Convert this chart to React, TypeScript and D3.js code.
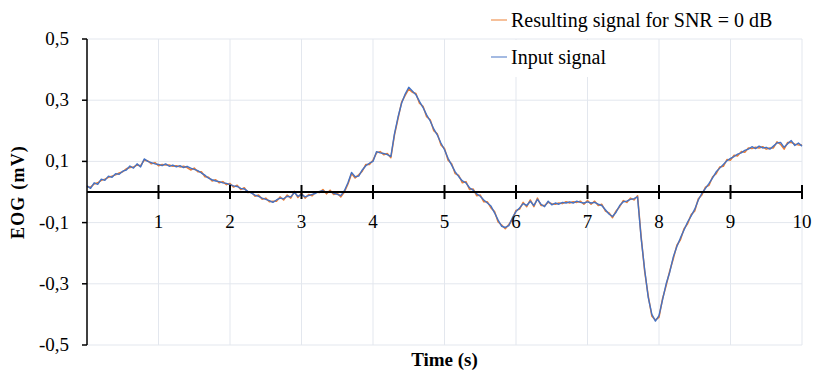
import * as d3 from "d3"

// sampling step of the traced signals (s)
const sampleStep = 0.05

const inputSignal = [
  0.020, 0.012, 0.030, 0.025, 0.042, 0.038, 0.052, 0.048, 0.060, 0.058,
  0.068, 0.072, 0.085, 0.078, 0.092, 0.082, 0.108, 0.100, 0.096, 0.092,
  0.090, 0.086, 0.092, 0.084, 0.088, 0.082, 0.086, 0.080, 0.084, 0.078,
  0.074, 0.070, 0.062, 0.055, 0.045, 0.040, 0.036, 0.034, 0.030, 0.028,
  0.024, 0.020, 0.018, 0.012, 0.010, 0.002, -0.004, -0.010, -0.014, -0.020,
  -0.024, -0.028, -0.034, -0.026, -0.020, -0.022, -0.014, -0.016, -0.002, -0.014,
  -0.008, -0.016, -0.012, -0.008, -0.004, 0.002, 0.004, -0.002, 0.002, -0.004,
  -0.008, -0.012, 0.004, 0.030, 0.064, 0.050, 0.052, 0.072, 0.086, 0.094,
  0.100, 0.132, 0.128, 0.126, 0.122, 0.116, 0.190, 0.245, 0.290, 0.320,
  0.342, 0.330, 0.318, 0.296, 0.276, 0.252, 0.232, 0.206, 0.186, 0.160,
  0.138, 0.110, 0.088, 0.066, 0.050, 0.036, 0.030, 0.014, 0.006, -0.006,
  -0.014, -0.026, -0.036, -0.046, -0.068, -0.092, -0.112, -0.116, -0.110, -0.084,
  -0.064, -0.052, -0.038, -0.044, -0.030, -0.044, -0.024, -0.040, -0.048, -0.030,
  -0.042, -0.036, -0.040, -0.034, -0.036, -0.032, -0.036, -0.030, -0.034, -0.036,
  -0.032, -0.036, -0.034, -0.040, -0.044, -0.058, -0.072, -0.080, -0.066, -0.044,
  -0.032, -0.030, -0.024, -0.022, -0.016, -0.150, -0.255, -0.345, -0.400, -0.422,
  -0.404, -0.352, -0.300, -0.262, -0.212, -0.178, -0.150, -0.124, -0.098, -0.078,
  -0.056, -0.026, -0.004, 0.012, 0.028, 0.046, 0.066, 0.078, 0.090, 0.102,
  0.110, 0.116, 0.124, 0.128, 0.136, 0.140, 0.148, 0.142, 0.150, 0.144,
  0.146, 0.140, 0.150, 0.160, 0.162, 0.146, 0.158, 0.168, 0.152, 0.160,
  0.150,
]

const resultSignal = [
  0.016, 0.016, 0.026, 0.030, 0.038, 0.042, 0.048, 0.052, 0.056, 0.062,
  0.066, 0.076, 0.080, 0.082, 0.088, 0.086, 0.104, 0.102, 0.092, 0.096,
  0.086, 0.090, 0.088, 0.088, 0.084, 0.086, 0.082, 0.084, 0.080, 0.072,
  0.078, 0.066, 0.066, 0.050, 0.048, 0.036, 0.040, 0.030, 0.034, 0.024,
  0.028, 0.016, 0.022, 0.008, 0.014, -0.002, 0.000, -0.014, -0.010, -0.024,
  -0.020, -0.032, -0.030, -0.030, -0.016, -0.026, -0.010, -0.020, 0.002, -0.018,
  -0.004, -0.020, -0.008, -0.012, 0.000, -0.002, 0.008, -0.006, 0.006, -0.008,
  -0.004, -0.016, 0.000, 0.026, 0.060, 0.046, 0.056, 0.068, 0.090, 0.090,
  0.104, 0.128, 0.132, 0.122, 0.126, 0.112, 0.186, 0.240, 0.294, 0.316,
  0.336, 0.326, 0.322, 0.290, 0.280, 0.246, 0.236, 0.200, 0.190, 0.154,
  0.142, 0.104, 0.092, 0.060, 0.054, 0.030, 0.034, 0.008, 0.010, -0.012,
  -0.010, -0.032, -0.032, -0.052, -0.064, -0.098, -0.108, -0.120, -0.106, -0.090,
  -0.060, -0.056, -0.034, -0.048, -0.026, -0.048, -0.020, -0.044, -0.044, -0.034,
  -0.038, -0.040, -0.036, -0.038, -0.032, -0.036, -0.032, -0.034, -0.030, -0.040,
  -0.028, -0.040, -0.030, -0.044, -0.040, -0.062, -0.068, -0.084, -0.062, -0.048,
  -0.028, -0.034, -0.020, -0.026, -0.012, -0.146, -0.260, -0.340, -0.406, -0.418,
  -0.410, -0.348, -0.306, -0.258, -0.218, -0.174, -0.156, -0.120, -0.104, -0.074,
  -0.062, -0.022, -0.010, 0.016, 0.022, 0.050, 0.060, 0.082, 0.084, 0.106,
  0.104, 0.120, 0.118, 0.132, 0.130, 0.144, 0.142, 0.146, 0.144, 0.148,
  0.140, 0.144, 0.144, 0.164, 0.156, 0.140, 0.162, 0.162, 0.156, 0.154,
  0.154,
]

const xTicks = [1, 2, 3, 4, 5, 6, 7, 8, 9, 10]
const yTicks = [0.5, 0.3, 0.1, -0.1, -0.3, -0.5]
const yTickLabels = ["0,5", "0,3", "0,1", "-0,1", "-0,3", "-0,5"]

const seriesNames = ["Resulting signal for SNR = 0 dB", "Input signal"]
const orange = "#ED7D31"
const blue = "#4472C4"

const W = 814
const H = 374
const margin = { top: 39, right: 12, bottom: 29, left: 87 }
const font = "'Liberation Serif', 'DejaVu Serif', serif"

export default function App() {
  const x = d3.scaleLinear().domain([0, 10]).range([margin.left, W - margin.right])
  const y = d3.scaleLinear().domain([-0.5, 0.5]).range([H - margin.bottom, margin.top])

  const line = d3
    .line<number>()
    .x((_, i) => x(i * sampleStep))
    .y((d) => y(d))

  const y0 = y(0)

  return (
    <svg
      width={W}
      height={H}
      style={{ position: "absolute", left: 0, top: 0, background: "#fff" }}
      fontFamily={font}
    >
      {/* grid */}
      {yTicks.map((t) => (
        <line key={"gy" + t} x1={x(0)} x2={x(10)} y1={y(t)} y2={y(t)} stroke="#E3E7EE" strokeWidth={1} />
      ))}
      {xTicks.map((t) => (
        <line key={"gx" + t} x1={x(t)} x2={x(t)} y1={y(0.5)} y2={y(-0.5)} stroke="#E3E7EE" strokeWidth={1} />
      ))}

      {/* legend background, partly inside the plot */}
      <rect x={486} y={y(0.5) + 1} width={138} height={37} fill="#fff" />

      {/* data */}
      <path d={line(resultSignal) || ""} fill="none" stroke={orange} strokeWidth={1.5} strokeLinejoin="round" />
      <path d={line(inputSignal) || ""} fill="none" stroke={blue} strokeWidth={1.4} strokeLinejoin="round" />

      {/* y axis */}
      <line x1={x(0)} x2={x(0)} y1={y(0.5)} y2={y(-0.5)} stroke="#000" strokeWidth={1.5} />
      {yTicks.map((t, i) => (
        <g key={"yt" + t}>
          <line x1={x(0) - 5} x2={x(0)} y1={y(t)} y2={y(t)} stroke="#000" strokeWidth={1.5} />
          <text x={x(0) - 18} y={y(t) + 6} textAnchor="end" fontSize={19} fill="#000">
            {yTickLabels[i]}
          </text>
        </g>
      ))}

      {/* x axis at zero */}
      <line x1={x(0)} x2={x(10)} y1={y0} y2={y0} stroke="#000" strokeWidth={2} />
      {xTicks.map((t) => (
        <g key={"xt" + t}>
          <line x1={x(t)} x2={x(t)} y1={y0 - 7} y2={y0 + 7} stroke="#000" strokeWidth={2} />
          <text x={x(t)} y={y0 + 36} textAnchor="middle" fontSize={19} fill="#000">
            {t}
          </text>
        </g>
      ))}

      {/* axis titles */}
      <text
        transform={`translate(24,${y0}) rotate(-90)`}
        textAnchor="middle"
        fontSize={18}
        fontWeight="bold"
        letterSpacing={1.2}
        fill="#000"
      >
        EOG (mV)
      </text>
      <text x={(x(0) + x(10)) / 2} y={366} textAnchor="middle" fontSize={19} fontWeight="bold" fill="#000">
        Time (s)
      </text>

      {/* legend */}
      {seriesNames.map((name, i) => (
        <g key={name} transform={`translate(491,${20 + i * 37})`}>
          <line x1={0} x2={16} y1={0} y2={0} stroke={i === 0 ? orange : blue} strokeWidth={1.3} opacity={0.75} />
          <text x={20} y={7} fontSize={20} fill="#000">
            {name}
          </text>
        </g>
      ))}
    </svg>
  )
}
